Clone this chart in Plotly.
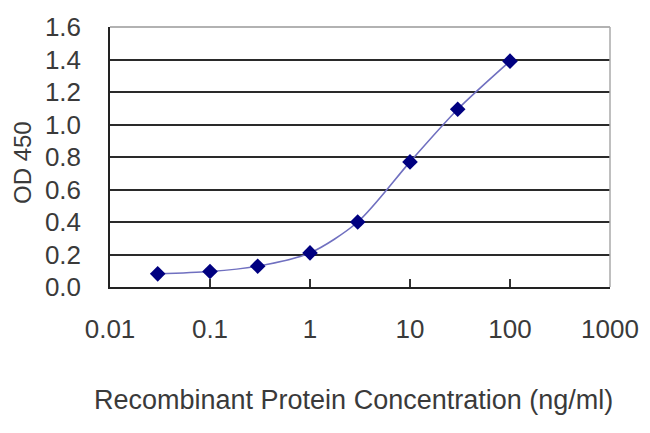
import plotly.graph_objects as go

concentration = [0.03, 0.1, 0.3, 1, 3, 10, 30, 100]
od450 = [0.081, 0.095, 0.128, 0.21, 0.40, 0.77, 1.094, 1.39]

x_tickvals = [0.01, 0.1, 1, 10, 100, 1000]
x_ticktext = ["0.01", "0.1", "1", "10", "100", "1000"]
y_tickvals = [0.0, 0.2, 0.4, 0.6, 0.8, 1.0, 1.2, 1.4, 1.6]

x_title = "Recombinant Protein Concentration (ng/ml)"
y_title = "OD 450"

FONT = "Liberation Sans, Arial, sans-serif"
TXT = "#3a3a3a"

fig = go.Figure()
fig.add_trace(go.Scatter(
    x=concentration, y=od450, mode="lines+markers",
    line=dict(color="#7070c0", width=1.6, shape="spline", smoothing=0.8),
    marker=dict(symbol="diamond", size=12, color="#000080"),
    showlegend=False,
))

# page body has an 8px default margin; size the figure so the plot lands
# where the reference has it inside the 650x433 window
fig.update_layout(
    width=642, height=425,
    margin=dict(l=102, r=40, t=19, b=146),
    paper_bgcolor="white", plot_bgcolor="white",
    font=dict(family=FONT, color=TXT),
    xaxis=dict(
        type="log", range=[-2, 3], automargin=False,
        tickvals=x_tickvals, ticktext=x_ticktext,
        ticks="inside", ticklen=8, tickwidth=1.5, tickcolor="#333333",
        showgrid=False, zeroline=False,
        showline=True, linecolor="#222222", linewidth=1.5,
        tickfont=dict(size=26, family=FONT, color=TXT),
        ticklabelstandoff=18,
    ),
    yaxis=dict(
        range=[0, 1.6], tickvals=y_tickvals, tickformat=".1f", automargin=False,
        ticks="", showgrid=True, gridcolor="#2a2a2a", gridwidth=2,
        zeroline=False,
        showline=True, linecolor="#222222", linewidth=1.5,
        tickfont=dict(size=26, family=FONT, color=TXT),
        ticklabelstandoff=22,
    ),
    annotations=[
        dict(text=x_title, xref="paper", yref="paper", x=0.5, y=0,
             xanchor="center", yanchor="middle", xshift=-7, yshift=-113,
             showarrow=False, font=dict(size=27, family=FONT, color=TXT)),
        dict(text=y_title, xref="paper", yref="paper", x=0, y=0.5,
             xanchor="center", yanchor="middle", xshift=-88, yshift=-6,
             textangle=-90, showarrow=False,
             font=dict(size=24, family=FONT, color=TXT)),
    ],
    shapes=[
        dict(type="line", xref="paper", yref="paper", x0=0, x1=1, y0=1, y1=1,
             line=dict(color="#999999", width=1.5)),
        dict(type="line", xref="paper", yref="paper", x0=1, x1=1, y0=0, y1=1,
             line=dict(color="#aaaaaa", width=1.5)),
    ],
)

fig.write_html("out.html")
